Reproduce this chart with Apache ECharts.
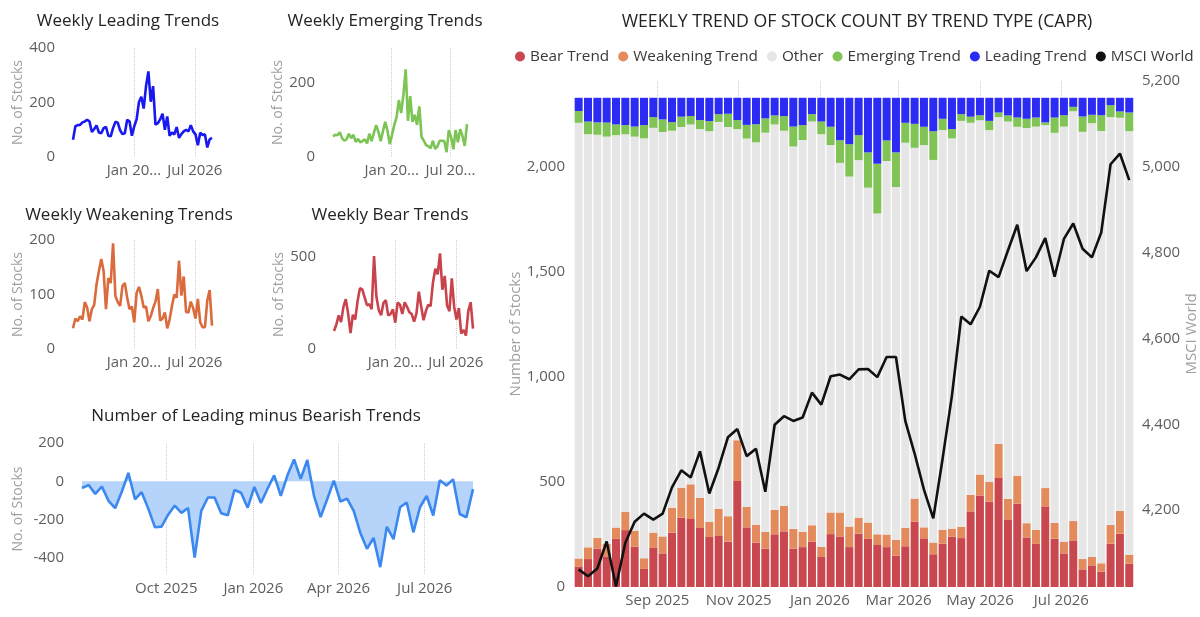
<!DOCTYPE html>
<html>
<head>
<meta charset="utf-8">
<title>Weekly trend of stock count by trend type</title>
<script src="https://cdn.jsdelivr.net/npm/echarts@6/dist/echarts.min.js"></script>
<style>
  html, body { margin: 0; padding: 0; background: #fff; }
  #chart { width: 1200px; height: 617px; }
</style>
</head>
<body>
<div id="chart"></div>
<script>
// Semaines (vendredi de chaque semaine)
const WEEKS = [
  '2025-07-04', '2025-07-11', '2025-07-18', '2025-07-25', '2025-08-01', '2025-08-08', '2025-08-15', '2025-08-22', '2025-08-29', '2025-09-05',
  '2025-09-12', '2025-09-19', '2025-09-26', '2025-10-03', '2025-10-10', '2025-10-17', '2025-10-24', '2025-10-31', '2025-11-07', '2025-11-14',
  '2025-11-21', '2025-11-28', '2025-12-05', '2025-12-12', '2025-12-19', '2025-12-26', '2026-01-02', '2026-01-09', '2026-01-16', '2026-01-23',
  '2026-01-30', '2026-02-06', '2026-02-13', '2026-02-20', '2026-02-27', '2026-03-06', '2026-03-13', '2026-03-20', '2026-03-27', '2026-04-03',
  '2026-04-10', '2026-04-17', '2026-04-24', '2026-05-01', '2026-05-08', '2026-05-15', '2026-05-22', '2026-05-29', '2026-06-05', '2026-06-12',
  '2026-06-19', '2026-06-26', '2026-07-03', '2026-07-10', '2026-07-17', '2026-07-24', '2026-07-31', '2026-08-07', '2026-08-14', '2026-08-21',
];

// Nombre d'actions par type de tendance
const BEAR = [
  98, 133, 183, 146, 229, 271, 192, 86, 186, 160,
  259, 330, 324, 281, 238, 243, 216, 505, 284, 211,
  183, 251, 265, 183, 190, 216, 143, 252, 241, 190,
  254, 229, 200, 190, 149, 194, 311, 232, 156, 206,
  240, 233, 360, 436, 406, 519, 322, 397, 236, 205,
  384, 230, 160, 222, 84, 103, 73, 206, 254, 111,
];
const WEAKENING = [
  38, 56, 51, 60, 54, 86, 76, 51, 73, 81,
  119, 143, 165, 143, 73, 130, 121, 194, 97, 86,
  79, 116, 121, 94, 73, 78, 49, 103, 114, 98,
  76, 78, 51, 60, 75, 87, 110, 52, 56, 67,
  38, 54, 79, 100, 94, 162, 98, 133, 68, 67,
  87, 75, 56, 92, 49, 40, 40, 89, 108, 43,
];
const OTHER = [
  2075, 1968, 1920, 1939, 1869, 1799, 1877, 2000, 1928, 1926,
  1795, 1718, 1714, 1757, 1860, 1842, 1854, 1482, 1755, 1821,
  1902, 1836, 1787, 1821, 1866, 1923, 1965, 1750, 1665, 1667,
  1703, 1595, 1528, 1779, 1681, 1835, 1671, 1821, 1822, 1903,
  1859, 1933, 1772, 1687, 1676, 1557, 1797, 1662, 1882, 1921,
  1729, 1858, 1977, 1952, 2035, 2066, 2059, 1943, 1873, 2017,
];
const EMERGING = [
  56, 60, 59, 67, 51, 44, 48, 63, 51, 60,
  41, 49, 40, 43, 48, 37, 63, 43, 65, 86,
  68, 43, 70, 95, 71, 35, 60, 87, 108, 154,
  119, 168, 237, 98, 165, 95, 114, 87, 137, 54,
  44, 32, 29, 24, 44, 22, 29, 44, 44, 43,
  13, 73, 54, 21, 73, 40, 75, 57, 30, 89,
];
const LEADING = [
  63, 113, 117, 118, 127, 130, 137, 130, 92, 103,
  116, 90, 87, 106, 111, 78, 76, 106, 129, 126,
  98, 84, 87, 137, 130, 78, 113, 138, 202, 221,
  178, 260, 314, 203, 260, 119, 124, 138, 159, 100,
  149, 78, 90, 83, 110, 70, 84, 94, 100, 94,
  117, 94, 83, 43, 89, 81, 83, 35, 65, 70,
];
const LEAD_MINUS_BEAR = [
  -35, -20, -66, -28, -102, -141, -55, 44, -94, -57,
  -143, -240, -237, -175, -127, -165, -140, -399, -155, -85,
  -85, -167, -178, -46, -60, -138, -30, -114, -39, 31,
  -76, 31, 114, 13, 111, -75, -187, -94, 3, -106,
  -91, -155, -270, -353, -296, -449, -238, -303, -136, -111,
  -267, -136, -77, -179, 5, -22, 10, -171, -189, -41,
];
// Indice MSCI World
const MSCI = [
  4062, 4046, 4064, 4127, 4022, 4124, 4173, 4192, 4178, 4192,
  4253, 4293, 4276, 4337, 4239, 4299, 4370, 4389, 4326, 4343,
  4243, 4399, 4419, 4408, 4416, 4474, 4446, 4512, 4516, 4505,
  4528, 4529, 4510, 4557, 4557, 4408, 4332, 4248, 4181, 4320,
  4467, 4651, 4633, 4674, 4758, 4743, 4805, 4865, 4757, 4789,
  4834, 4744, 4832, 4868, 4809, 4789, 4847, 5006, 5031, 4969,
];

// Repères des axes
const MAIN_TICKS = ['2025-09-01', '2025-11-01', '2026-01-01', '2026-03-01', '2026-05-01', '2026-07-01'];
const SMALL_TICKS = ['2026-01-01', '2026-07-01'];
const DIFF_TICKS = ['2025-10-01', '2026-01-01', '2026-04-01', '2026-07-01'];
const MSCI_TICKS = [4200, 4400, 4600, 4800, 5000, 5200];
const DIFF_Y_TICKS = [-400, -200, 0, 200];
const SMALL_LABELS = { Jan: 'Jan 20...', Jul: 'Jul 2026' };
const SMALL_LABELS_CUT = { Jan: 'Jan 20...', Jul: 'Jul 20...' };

const MONTHS = ['Jan', 'Feb', 'Mar', 'Apr', 'May', 'Jun', 'Jul', 'Aug', 'Sep', 'Oct', 'Nov', 'Dec'];

const FONT = "'Segoe UI', 'Open Sans', sans-serif";
const LABEL_GRAY = '#605e5c';
const NAME_GRAY = '#a19f9d';
const TITLE_COLOR = '#252423';

const COLORS = {
  bear: '#c9474f',
  weakening: '#e38b5d',
  other: '#e6e6e6',
  emerging: '#7fc455',
  leading: '#2b2bf3',
  msci: '#111111',
};

const DAY = 86400000;
// Date -> timestamp (heure locale)
const ts = s => new Date(s + 'T00:00:00').getTime();
const pairs = arr => arr.map((v, i) => [ts(WEEKS[i]), v]);
const fmtNum = v => Number(v).toLocaleString('en-US');
const monthYear = v => {
  const d = new Date(Math.round(v));
  return MONTHS[d.getMonth()] + ' ' + d.getFullYear();
};

// Axe des dates (axe de valeurs en timestamps, repères choisis)
function dateAxis(gridIndex, min, max, ticks, labels) {
  const tickValues = ticks.map(ts);
  return {
    type: 'value',
    gridIndex,
    position: 'bottom',
    min,
    max,
    axisLine: { show: false },
    axisTick: { show: false, customValues: tickValues },
    splitLine: { show: true, lineStyle: { type: 'dotted', color: '#cfcfcf', width: 1 } },
    axisLabel: {
      customValues: tickValues,
      color: LABEL_GRAY,
      fontFamily: FONT,
      fontSize: 15,
      margin: 6,
      hideOverlap: false,
      showMinLabel: true,
      showMaxLabel: true,
      formatter: v => labels ? labels[MONTHS[new Date(Math.round(v)).getMonth()]] : monthYear(v),
    },
  };
}

const FIRST = ts(WEEKS[0]);
const LAST = ts(WEEKS[WEEKS.length - 1]);
const smallXAxis = (gridIndex, ticks, labels) => dateAxis(gridIndex, FIRST, LAST, ticks, labels);

function smallYAxis(gridIndex, min, max, interval, nameGap, opts = {}) {
  const axis = {
    type: 'value',
    gridIndex,
    min,
    max,
    name: 'No. of Stocks',
    nameLocation: 'middle',
    nameRotate: 90,
    nameGap,
    nameTextStyle: { color: NAME_GRAY, fontFamily: FONT, fontSize: 14 },
    axisLine: { show: false },
    axisTick: { show: false },
    splitLine: { show: false },
    axisLabel: {
      color: LABEL_GRAY,
      fontFamily: FONT,
      fontSize: 15,
      margin: 18,
      showMaxLabel: !!opts.showMax,
      formatter: fmtNum,
    },
  };
  if (interval) axis.interval = interval;
  if (opts.custom) {
    axis.axisLabel.customValues = opts.custom;
    axis.axisLabel.showMaxLabel = true;
  }
  return axis;
}

function smallLine(name, data, color, xIdx, yIdx) {
  return {
    name,
    type: 'line',
    xAxisIndex: xIdx,
    yAxisIndex: yIdx,
    data: pairs(data),
    showSymbol: false,
    symbol: 'none',
    lineStyle: { color, width: 2.6 },
    itemStyle: { color },
    silent: true,
  };
}

function mainBar(name, data, color) {
  return {
    name,
    type: 'bar',
    stack: 'trend',
    xAxisIndex: 0,
    yAxisIndex: 0,
    barWidth: 8,
    data,
    itemStyle: { color },
  };
}

const titleStyle = { color: TITLE_COLOR, fontFamily: FONT, fontSize: 17, fontWeight: 'normal' };

const option = {
  backgroundColor: '#ffffff',
  animation: false,
  textStyle: { fontFamily: FONT },
  title: [
    { text: 'WEEKLY TREND OF STOCK COUNT BY TREND TYPE (CAPR)', left: 852, top: 8, textAlign: 'center', textStyle: { ...titleStyle, fontSize: 17.7 } },
    { text: 'Weekly Leading Trends', left: 123, top: 8, textAlign: 'center', textStyle: titleStyle },
    { text: 'Weekly Emerging Trends', left: 380, top: 8, textAlign: 'center', textStyle: titleStyle },
    { text: 'Weekly Weakening Trends', left: 124, top: 202, textAlign: 'center', textStyle: titleStyle },
    { text: 'Weekly Bear Trends', left: 385, top: 202, textAlign: 'center', textStyle: titleStyle },
    { text: 'Number of Leading minus Bearish Trends', left: 251, top: 403, textAlign: 'center', textStyle: titleStyle },
  ],
  legend: {
    data: ['Bear Trend', 'Weakening Trend', 'Other', 'Emerging Trend', 'Leading Trend', 'MSCI World'],
    left: 510,
    top: 44,
    width: 700,
    icon: 'circle',
    itemWidth: 10,
    itemHeight: 10,
    itemGap: 9,
    textStyle: { color: '#3b3a39', fontFamily: FONT, fontSize: 15.3 },
  },
  grid: [
    { left: 574, top: 81, width: 561, height: 506 },
    { left: 73, top: 48, width: 139, height: 109 },
    { left: 333, top: 48, width: 134, height: 109 },
    { left: 73, top: 240, width: 139, height: 109 },
    { left: 334, top: 240, width: 139, height: 109 },
    { left: 82, top: 443, width: 391, height: 132 },
  ],
  xAxis: [
    // axe des barres (catégories = semaines), invisible
    {
      type: 'category',
      gridIndex: 0,
      position: 'bottom',
      data: WEEKS,
      boundaryGap: true,
      axisLine: { show: false },
      axisTick: { show: false },
      axisLabel: { show: false },
      splitLine: { show: false },
    },
    smallXAxis(1, SMALL_TICKS, SMALL_LABELS),
    smallXAxis(2, SMALL_TICKS, SMALL_LABELS_CUT),
    smallXAxis(3, SMALL_TICKS, SMALL_LABELS),
    smallXAxis(4, SMALL_TICKS, SMALL_LABELS),
    smallXAxis(5, DIFF_TICKS, null),
    // axe des dates du graphique principal (libellés des mois)
    dateAxis(0, FIRST - 3.5 * DAY, LAST + 3.5 * DAY, MAIN_TICKS, null),
  ],
  yAxis: [
    {
      type: 'value',
      gridIndex: 0,
      min: 0,
      max: 2410,
      interval: 500,
      name: 'Number of Stocks',
      nameLocation: 'middle',
      nameRotate: 90,
      nameGap: 50,
      nameTextStyle: { color: NAME_GRAY, fontFamily: FONT, fontSize: 15 },
      axisLine: { show: false },
      axisTick: { show: false },
      splitLine: { show: false },
      axisLabel: { color: LABEL_GRAY, fontFamily: FONT, fontSize: 15, margin: 9, showMaxLabel: false, formatter: fmtNum },
    },
    {
      type: 'value',
      gridIndex: 0,
      position: 'right',
      min: 4021,
      max: 5200,
      name: 'MSCI World',
      nameLocation: 'middle',
      nameRotate: 90,
      nameGap: 48,
      nameTextStyle: { color: NAME_GRAY, fontFamily: FONT, fontSize: 15 },
      axisLine: { show: false },
      axisTick: { show: false },
      splitLine: { show: false },
      axisLabel: { customValues: MSCI_TICKS, color: LABEL_GRAY, fontFamily: FONT, fontSize: 15, margin: 8, formatter: fmtNum },
    },
    smallYAxis(1, 0, 400, 200, 47, { showMax: true }),
    smallYAxis(2, 0, 295, 200, 47),
    smallYAxis(3, 0, 200, 100, 47, { showMax: true }),
    smallYAxis(4, 0, 592, 500, 48),
    smallYAxis(5, -490, 200, null, 57, { custom: DIFF_Y_TICKS }),
  ],
  series: [
    mainBar('Bear Trend', BEAR, COLORS.bear),
    mainBar('Weakening Trend', WEAKENING, COLORS.weakening),
    mainBar('Other', OTHER, COLORS.other),
    mainBar('Emerging Trend', EMERGING, COLORS.emerging),
    mainBar('Leading Trend', LEADING, COLORS.leading),
    {
      name: 'MSCI World',
      type: 'line',
      xAxisIndex: 0,
      yAxisIndex: 1,
      data: MSCI,
      showSymbol: false,
      symbol: 'circle',
      lineStyle: { color: COLORS.msci, width: 2.6 },
      itemStyle: { color: COLORS.msci },
      z: 5,
    },
    smallLine('Leading (weekly)', LEADING, '#1818f0', 1, 2),
    smallLine('Emerging (weekly)', EMERGING, '#7cc453', 2, 3),
    smallLine('Weakening (weekly)', WEAKENING, '#d96b3c', 3, 4),
    smallLine('Bear (weekly)', BEAR, '#c8434c', 4, 5),
    {
      ...smallLine('Leading minus Bearish', LEAD_MINUS_BEAR, '#3a88f0', 5, 6),
      areaStyle: { color: '#b6d3fa', opacity: 1, origin: 0 },
    },
  ],
};

const chart = echarts.init(document.getElementById('chart'));
chart.setOption(option);
</script>
</body>
</html>
